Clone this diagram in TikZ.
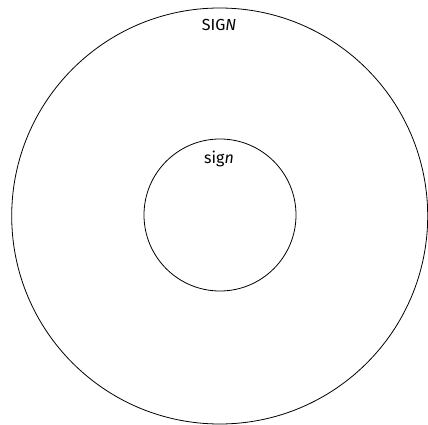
\documentclass[tikz,border=0pt]{standalone}
\usepackage{fontspec}
\setmainfont{Fira Sans}
\begin{document}
\begin{tikzpicture}[x=1pt,y=-1pt,
  ring/.style={draw, line width=0.8pt, circle, inner sep=0pt, outer sep=0pt},
  lbl/.style={font=\fontsize{16}{18}\selectfont, inner sep=0pt}]
\useasboundingbox (0,0) rectangle (428,425);
\node[ring, minimum size=416pt] (big) at (219.7,216) {};
\node[ring, minimum size=152pt] (small) at (220,215) {};
\node[lbl, anchor=base] (outer) at (219,31) {SIG\textit{N}};
\node[lbl, anchor=base] (inner) at (219,163) {sig\textit{n}};
\end{tikzpicture}
\end{document}
